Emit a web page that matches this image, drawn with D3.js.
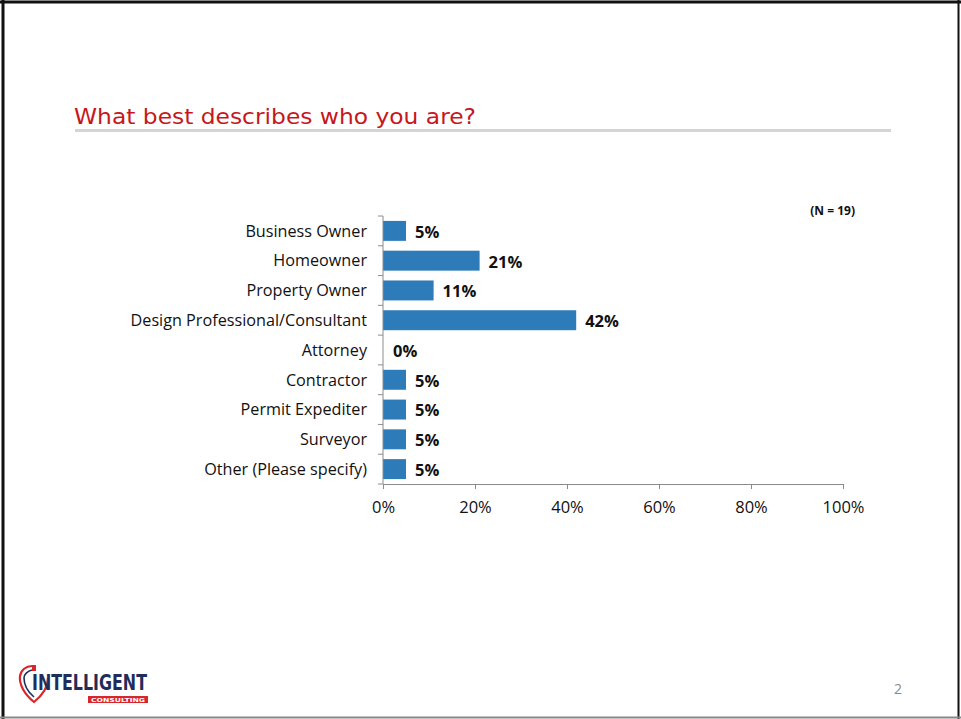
<!DOCTYPE html>
<html>
<head>
<meta charset="utf-8">
<script src="https://cdn.jsdelivr.net/npm/d3@7"></script>
<style>
  html, body { margin: 0; padding: 0; background: #fff; }
  svg { display: block; }
</style>
</head>
<body>
<svg id="slide" width="961" height="719"></svg>
<script>
// Survey answers (percent of respondents)
const categories = [
  "Business Owner",
  "Homeowner",
  "Property Owner",
  "Design Professional/Consultant",
  "Attorney",
  "Contractor",
  "Permit Expediter",
  "Surveyor",
  "Other (Please specify)"
];
const values = [5, 21, 11, 42, 0, 5, 5, 5, 5];
const xTicks = [0, 20, 40, 60, 80, 100];
const titleText = "What best describes who you are?";
const sampleNote = "(N = 19)";
const pageNumber = "2";

const svg = d3.select("#slide");
const W = 961, H = 719;

// slide frame
svg.append("rect").attr("x", 0).attr("y", 0).attr("width", W).attr("height", H).attr("fill", "#fff");
svg.append("line").attr("x1", 0).attr("x2", W).attr("y1", 2).attr("y2", 2).attr("stroke", "#111").attr("stroke-width", 3);
svg.append("line").attr("x1", 3).attr("x2", 3).attr("y1", 0).attr("y2", H).attr("stroke", "#111").attr("stroke-width", 3);
svg.append("line").attr("x1", 958.5).attr("x2", 958.5).attr("y1", 0).attr("y2", H).attr("stroke", "#111").attr("stroke-width", 2);
svg.append("line").attr("x1", 0).attr("x2", W).attr("y1", 717.5).attr("y2", 717.5).attr("stroke", "#888").attr("stroke-width", 2);

// title
svg.append("text")
  .attr("x", 74).attr("y", 124)
  .attr("font-family", "'DejaVu Sans', sans-serif")
  .attr("font-size", 21)
  .attr("fill", "#c8161d")
  .attr("textLength", 402)
  .attr("lengthAdjust", "spacingAndGlyphs")
  .text(titleText);
svg.append("line").attr("x1", 75).attr("x2", 891).attr("y1", 130.5).attr("y2", 130.5)
  .attr("stroke", "#d4d4d4").attr("stroke-width", 3);

// chart geometry
const x0 = 383, x1 = 843, yTop = 216, yBot = 484;
const x = d3.scaleLinear().domain([0, 100]).range([x0, x1]);
const y = d3.scaleBand().domain(categories).range([yTop, yBot]).paddingInner(0.33).paddingOuter(0.165);

const font = "'Open Sans', Lato, sans-serif";

// bars
svg.append("g").selectAll("rect").data(values).join("rect")
  .attr("x", x(0))
  .attr("y", (d, i) => y(categories[i]))
  .attr("width", d => x(d) - x(0))
  .attr("height", y.bandwidth())
  .attr("fill", "#2e7bba");

// value labels
svg.append("g").selectAll("text").data(values).join("text")
  .attr("x", d => x(d) + (d === 0 ? 10 : 9))
  .attr("y", (d, i) => y(categories[i]) + y.bandwidth() / 2 + 1)
  .attr("dy", "0.36em")
  .attr("font-family", font)
  .attr("font-size", 16.5)
  .attr("font-weight", "bold")
  .attr("fill", "#111")
  .text(d => d + "%");

// x axis
const xAxis = svg.append("g").attr("transform", `translate(0,${yBot})`)
  .call(d3.axisBottom(x).tickValues(xTicks).tickFormat(d => d + "%").tickSize(5).tickSizeOuter(0));
xAxis.select(".domain").attr("stroke", "#8c8c8c");
xAxis.selectAll(".tick line").attr("stroke", "#8c8c8c");
xAxis.selectAll(".tick text")
  .attr("y", 17)
  .attr("font-family", font)
  .attr("font-size", 16.5)
  .attr("fill", "#111");

// y axis: category dividers as ticks between bands
const yAxisG = svg.append("g");
yAxisG.append("line").attr("x1", x0).attr("x2", x0).attr("y1", yTop).attr("y2", yBot)
  .attr("stroke", "#8c8c8c");
const dividers = d3.range(categories.length + 1).map(i => yTop + i * (yBot - yTop) / categories.length);
yAxisG.selectAll("line.div").data(dividers).join("line").attr("class", "div")
  .attr("x1", x0 - 5).attr("x2", x0).attr("y1", d => d).attr("y2", d => d)
  .attr("stroke", "#8c8c8c");
yAxisG.selectAll("text").data(categories).join("text")
  .attr("x", 367)
  .attr("y", d => y(d) + y.bandwidth() / 2)
  .attr("dy", "0.36em")
  .attr("text-anchor", "end")
  .attr("font-family", font)
  .attr("font-size", 16.2)
  .attr("fill", "#111")
  .text(d => d);

// sample size note
svg.append("text")
  .attr("x", 855).attr("y", 215)
  .attr("text-anchor", "end")
  .attr("font-family", font)
  .attr("font-size", 12)
  .attr("font-weight", "bold")
  .attr("fill", "#111")
  .text(sampleNote);

// page number
svg.append("text")
  .attr("x", 898).attr("y", 694)
  .attr("text-anchor", "middle")
  .attr("font-family", font)
  .attr("font-size", 14)
  .attr("fill", "#8a8a8a")
  .text(pageNumber);

// company logo
const logo = svg.append("g").attr("transform", "translate(18,662)");
logo.append("path")
  .attr("d", "M14,4 C8,4 3,8 2,14 C1,22 6,32 16,40 C26,32 30,24 30,16")
  .attr("fill", "none").attr("stroke", "#d9262c").attr("stroke-width", 2.2);
logo.append("path")
  .attr("d", "M14,8 C10,9 6,12 6,16 C6,23 10,30 16,35")
  .attr("fill", "none").attr("stroke", "#1f2d5a").attr("stroke-width", 1.6);
logo.append("rect").attr("x", 14).attr("y", 3).attr("width", 4).attr("height", 6).attr("fill", "#d9262c");
logo.append("text")
  .attr("x", 14).attr("y", 28)
  .attr("font-family", "'DejaVu Sans Condensed', 'Liberation Sans Narrow', sans-serif")
  .attr("font-size", 21)
  .attr("font-weight", "bold")
  .attr("fill", "#1f2d5a")
  .attr("textLength", 115)
  .attr("lengthAdjust", "spacingAndGlyphs")
  .text("INTELLIGENT");
logo.append("rect").attr("x", 70).attr("y", 34).attr("width", 60).attr("height", 7).attr("fill", "#d9262c");
logo.append("text")
  .attr("x", 100).attr("y", 39.8)
  .attr("text-anchor", "middle")
  .attr("font-family", "'DejaVu Sans', sans-serif")
  .attr("font-size", 5.5)
  .attr("font-weight", "bold")
  .attr("fill", "#fff")
  .attr("textLength", 54)
  .attr("lengthAdjust", "spacingAndGlyphs")
  .text("CONSULTING");
</script>
</body>
</html>
